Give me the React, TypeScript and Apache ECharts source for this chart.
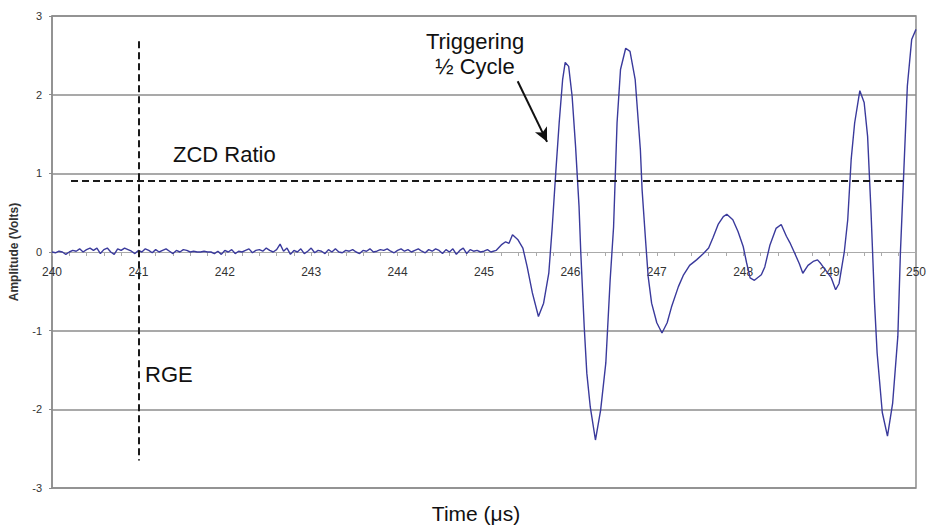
import React, { useEffect, useRef } from "react";
import * as echarts from "echarts";

// Pre-trigger noise, sampled every 0.04 µs starting at 240.00 µs
const NOISE_START = 240;
const NOISE_STEP = 0.04;
const noiseValues = [
  0.0, -0.01, 0.01, 0.0, -0.03, 0.0, 0.02, 0.01, 0.04, 0.0,
  0.03, 0.05, 0.02, 0.05, -0.02, 0.03, 0.05, 0.0, -0.03, 0.04,
  0.02, 0.05, 0.03, 0.01, -0.02, 0.02, 0.0, 0.04, 0.02, -0.01,
  0.03, 0.0, 0.02, 0.04, 0.01, -0.02, 0.02, 0.0, 0.03, 0.02,
  0.0, 0.01, 0.0, 0.0, 0.01, 0.0, 0.0, -0.02, 0.01, -0.03,
  0.02, 0.0, 0.03, -0.02, 0.01, 0.0, 0.02, 0.04, -0.01, 0.02,
  0.03, 0.01, 0.05, 0.02, 0.0, 0.03, 0.1, 0.01, 0.05, -0.03,
  0.02, 0.0, 0.04, -0.02, 0.01, 0.05, -0.01, 0.02, 0.01, -0.02,
  0.03, 0.0, 0.04, 0.0, -0.01, 0.02, 0.01, 0.03, 0.0, -0.02,
  0.02, 0.01, 0.04, 0.0, 0.01, 0.03, 0.02, 0.04, 0.01, -0.01,
  0.02, 0.04, 0.01, 0.03, 0.0, 0.02, 0.04, 0.01, -0.01, 0.03,
  0.01, 0.04, 0.02, -0.02, 0.03, 0.0, 0.04, -0.03, 0.02, 0.05,
  -0.02, 0.03, 0.01, 0.02, 0.0,
];

// Echo signal after 245 µs
const signalTimes = [
  245.0, 245.04, 245.08, 245.14, 245.2, 245.25, 245.29, 245.33, 245.39, 245.45,
  245.5, 245.56, 245.63, 245.69, 245.75, 245.79, 245.83, 245.87, 245.91, 245.94,
  245.98, 246.02, 246.06, 246.1, 246.12, 246.16, 246.19, 246.23, 246.29, 246.35,
  246.41, 246.46, 246.5, 246.54, 246.58, 246.64, 246.69, 246.75, 246.81, 246.83,
  246.87, 246.9, 246.94, 247.0, 247.06, 247.12, 247.17, 247.25, 247.31, 247.38,
  247.46, 247.54, 247.6, 247.65, 247.71, 247.77, 247.81, 247.88, 247.94, 248.0,
  248.04, 248.08, 248.13, 248.21, 248.25, 248.31, 248.38, 248.44, 248.5, 248.54,
  248.59, 248.65, 248.69, 248.75, 248.81, 248.86, 248.9, 248.96, 249.02, 249.07,
  249.11, 249.17, 249.21, 249.25, 249.29, 249.35, 249.4, 249.44, 249.48, 249.52,
  249.55, 249.61, 249.67, 249.73, 249.79, 249.82, 249.86, 249.9, 249.95, 250.0,
];
const signalValues = [
  0.01, 0.03, 0.0, 0.02, 0.09, 0.13, 0.11, 0.22, 0.16, 0.05,
  -0.19, -0.52, -0.82, -0.65, -0.27, 0.32, 1.0, 1.64, 2.19, 2.41,
  2.36, 1.98, 1.34, 0.58, 0.0, -0.95, -1.54, -1.97, -2.39, -2.01,
  -1.41, -0.36, 0.32, 1.64, 2.32, 2.59, 2.55, 2.19, 1.3, 0.79,
  0.15, -0.31, -0.65, -0.9, -1.03, -0.9, -0.7, -0.44, -0.29, -0.17,
  -0.1, -0.02, 0.05, 0.18, 0.35, 0.45, 0.48, 0.41, 0.26, 0.07,
  -0.14, -0.33, -0.36, -0.29, -0.19, 0.09, 0.3, 0.35, 0.2, 0.12,
  0.0, -0.15, -0.27, -0.17, -0.12, -0.1, -0.15, -0.24, -0.33, -0.48,
  -0.4, 0.0, 0.41, 1.18, 1.64, 2.05, 1.9, 1.47, 0.5, -0.64,
  -1.28, -2.04, -2.34, -1.92, -1.07, 0.0, 1.05, 2.11, 2.7, 2.83,
];

const xTickLabels = ["240", "241", "242", "243", "244", "245", "246", "247", "248", "249", "250"];

// Annotations (data units)
const zcdLevel = 0.9;
const zcdStart = 240.22;
const zcdEnd = 249.86;
const rgeTime = 241;
const rgeTop = 2.68;
const rgeBottom = -2.65;
const arrowFrom = [245.39, 2.17];
const arrowTo = [245.73, 1.4];

const FONT = "'Liberation Sans', Arial, sans-serif";

const GRID_TOP = 16;
const GRID_BOTTOM = 38;
const CHART_H = 526;

export default function App() {
  const ref = useRef<HTMLDivElement>(null);

  useEffect(() => {
    if (!ref.current) return;
    const chart = echarts.init(ref.current, undefined, { renderer: "svg" });

    const data: number[][] = [];
    noiseValues.forEach((v, i) => {
      data.push([+(NOISE_START + i * NOISE_STEP).toFixed(2), v]);
    });
    signalTimes.forEach((t, i) => data.push([t, signalValues[i]]));

    // x axis sits on the zero line: shift it up by half the plot height
    const plotH = CHART_H - GRID_TOP - GRID_BOTTOM;
    const zeroOffset = -plotH / 2;

    const dashStyle = { color: "#1a1a1a", width: 2, type: [7, 4] as any };

    chart.setOption({
      animation: false,
      backgroundColor: "#ffffff",
      textStyle: { fontFamily: FONT },
      grid: {
        left: 49,
        right: 12,
        top: GRID_TOP,
        bottom: GRID_BOTTOM,
        show: true,
        borderColor: "#8c8c8c",
        borderWidth: 1.5,
      },
      xAxis: {
        type: "value",
        min: 240,
        max: 250,
        interval: 1,
        position: "bottom",
        offset: zeroOffset,
        axisLine: { show: true, onZero: false, lineStyle: { color: "#aaaaaa", width: 1 } },
        axisTick: { show: true, length: 4, lineStyle: { color: "#aaaaaa" } },
        minorTick: { show: true, splitNumber: 5, length: 4, lineStyle: { color: "#aaaaaa" } },
        splitLine: { show: false },
        axisLabel: {
          color: "#333333",
          fontSize: 12,
          margin: 14,
          fontFamily: FONT,
          formatter: (v: number) => xTickLabels[Math.round(v - 240)] ?? "",
        },
      },
      yAxis: {
        type: "value",
        min: -3,
        max: 3,
        interval: 1,
        name: "Amplitude (Volts)",
        nameLocation: "middle",
        nameGap: 32,
        nameTextStyle: { color: "#333333", fontSize: 12, fontWeight: "bold", fontFamily: FONT },
        axisLine: { show: true, lineStyle: { color: "#8c8c8c", width: 1.5 } },
        axisTick: { show: true, length: 3, lineStyle: { color: "#8c8c8c" } },
        axisLabel: { color: "#333333", fontSize: 11, margin: 10, fontFamily: FONT },
        splitLine: {
          show: true,
          lineStyle: {
            color: ["#8c8c8c", "#8c8c8c", "#8c8c8c", "rgba(0,0,0,0)", "#8c8c8c", "#8c8c8c", "#8c8c8c"],
            width: 1.5,
          },
        },
      },
      series: [
        {
          type: "line",
          data,
          showSymbol: false,
          symbol: "none",
          lineStyle: { color: "#3a3a9c", width: 1.4 },
          z: 3,
          markLine: {
            silent: true,
            symbol: ["none", "none"],
            label: { show: false },
            lineStyle: dashStyle,
            data: [
              [
                { coord: [zcdStart, zcdLevel] },
                { coord: [zcdEnd, zcdLevel] },
              ],
              [
                { coord: [rgeTime, rgeTop] },
                { coord: [rgeTime, rgeBottom] },
              ],
              [
                { coord: arrowFrom, symbol: "none", lineStyle: { type: "solid", width: 2, color: "#111" } },
                { coord: arrowTo, symbol: "arrow", symbolSize: [10, 14], lineStyle: { type: "solid", width: 2, color: "#111" } },
              ],
            ],
          },
        },
      ],
      graphic: [
        {
          type: "text",
          left: 173,
          top: 143,
          style: { text: "ZCD Ratio", font: `22px ${FONT}`, fill: "#111" },
        },
        {
          type: "text",
          left: 145,
          top: 363,
          style: { text: "RGE", font: `22px ${FONT}`, fill: "#111" },
        },
        {
          type: "text",
          x: 475,
          y: 29,
          style: {
            text: "Triggering\n½ Cycle",
            font: `22px ${FONT}`,
            fill: "#111",
            align: "center",
            lineHeight: 25,
          },
        },
        {
          type: "text",
          x: 476,
          y: 502,
          style: {
            text: "Time (μs)",
            font: `21px ${FONT}`,
            fill: "#111",
            align: "center",
            lineHeight: 22,
          },
        },
      ],
    });

    return () => chart.dispose();
  }, []);

  return (
    <div
      ref={ref}
      style={{ position: "fixed", left: 0, top: 0, width: 929, height: 526, background: "#fff" }}
    />
  );
}
